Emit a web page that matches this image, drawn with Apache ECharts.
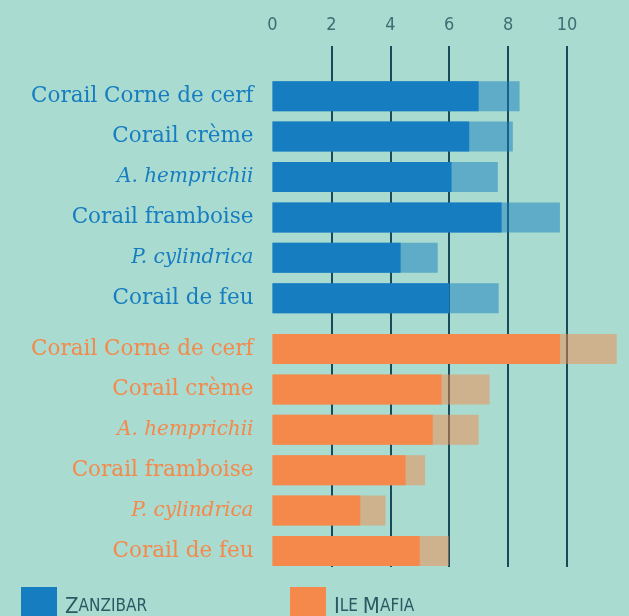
<!DOCTYPE html>
<html lang="fr">
    <head>
        <meta charset="UTF-8" />
        <title>Coraux Zanzibar / Ile Mafia</title>
        <script src="https://cdn.jsdelivr.net/npm/echarts@6/dist/echarts.min.js"></script>
        <style>
            body,
            html {
                margin: 0;
                padding: 0;
                width: 100%;
                height: 100%;
                overflow: hidden;
                background-color: #a9dbd0;
            }
            #main {
                width: 629px;
                height: 616px;
            }
        </style>
    </head>
    <body>
        <div id="main"></div>
        <script>
            const categories = ["Corail Corne de cerf", "Corail crème", "A. hemprichii", "Corail framboise", "P. cylindrica", "Corail de feu"]
            const italicNames = ["A. hemprichii", "P. cylindrica"]
            const tickValues = [0, 2, 4, 6, 8, 10]

            // solid part and full length (light part) for each coral
            const zanzibarSolid = [7.0, 6.68, 6.08, 7.78, 4.35, 6.0]
            const zanzibarTotal = [8.39, 8.16, 7.65, 9.76, 5.61, 7.68]
            const mafiaSolid = [9.76, 5.74, 5.44, 4.52, 2.98, 5.0]
            const mafiaTotal = [11.69, 7.37, 7.0, 5.18, 3.84, 5.99]

            const blue = "#167dc0"
            const orange = "#f4894b"
            const gridColor = "#174b5b"
            const serif = "'DejaVu Serif', serif"
            const narrow = "'DejaVu Sans Condensed', 'DejaVu Sans', sans-serif"

            const chart = echarts.init(document.getElementById("main"), null, { renderer: "canvas" })

            const left = 272.5
            const width = 12 * 29.45

            function catAxis(gridIndex, color) {
                const st = { fontFamily: serif, fontSize: 21.5, color: color }
                return {
                    type: "category",
                    gridIndex: gridIndex,
                    data: categories,
                    inverse: true,
                    axisLine: { show: false },
                    axisTick: { show: false },
                    axisLabel: {
                        margin: 19,
                        formatter: (v) => (italicNames.includes(v) ? "{i|" + v + "}" : "{n|" + v + "}"),
                        rich: { n: st, i: Object.assign({}, st, { fontStyle: "italic", fontSize: 20 }) },
                    },
                }
            }

            function valAxis(gridIndex) {
                return { type: "value", gridIndex: gridIndex, min: 0, max: 12, show: false }
            }

            function barPair(name, idx, solid, total, color) {
                return [
                    {
                        name: name + " (max)",
                        type: "bar",
                        xAxisIndex: idx,
                        yAxisIndex: idx,
                        data: total,
                        barWidth: 30,
                        barGap: "-100%",
                        itemStyle: { color: color, opacity: 0.5 },
                        silent: true,
                    },
                    {
                        name: name,
                        type: "bar",
                        xAxisIndex: idx,
                        yAxisIndex: idx,
                        data: solid,
                        barWidth: 30,
                        barGap: "-100%",
                        itemStyle: { color: color },
                        silent: true,
                    },
                ]
            }

            function smallCaps(name) {
                return name
                    .split(" ")
                    .map((w) => "{a|" + w[0].toUpperCase() + "}{b|" + w.slice(1).toUpperCase() + "}")
                    .join("{b| }")
            }

            const legendText = {
                color: "#2b5a63",
                padding: [4, 0, 0, 3],
                rich: {
                    a: { fontFamily: narrow, fontSize: 22, color: "#2b5a63" },
                    b: { fontFamily: narrow, fontSize: 17, color: "#2b5a63" },
                },
            }

            function legendAt(name, x) {
                return {
                    data: [name],
                    left: x,
                    top: 587,
                    padding: 0,
                    itemWidth: 36,
                    itemHeight: 36,
                    icon: "rect",
                    selectedMode: false,
                    formatter: smallCaps,
                    textStyle: legendText,
                }
            }

            const option = {
                backgroundColor: "#a9dbd0",
                animation: false,
                grid: [
                    { left: left, width: width, top: 46, height: 521 },
                    { left: left, width: width, top: 76, height: 242.4 },
                    { left: left, width: width, top: 328.8, height: 242.4 },
                ],
                xAxis: [
                    {
                        type: "value",
                        gridIndex: 0,
                        position: "top",
                        min: 0,
                        max: 12,
                        interval: 2,
                        axisLine: { show: false },
                        axisTick: { show: false },
                        axisLabel: {
                            margin: 12,
                            fontFamily: narrow,
                            fontSize: 18,
                            color: "#3e6d74",
                            showMaxLabel: false,
                            formatter: (v) => (tickValues.includes(v) ? String(v) : ""),
                        },
                        splitLine: {
                            show: true,
                            showMinLine: false,
                            showMaxLine: false,
                            lineStyle: { color: gridColor, width: 2 },
                        },
                    },
                    valAxis(1),
                    valAxis(2),
                ],
                yAxis: [{ type: "category", gridIndex: 0, data: [], show: false }, catAxis(1, blue), catAxis(2, orange)],
                legend: [legendAt("Zanzibar", 21), legendAt("Ile Mafia", 290)],
                series: [
                    ...barPair("Zanzibar", 1, zanzibarSolid, zanzibarTotal, blue),
                    ...barPair("Ile Mafia", 2, mafiaSolid, mafiaTotal, orange),
                ],
            }

            chart.setOption(option)
        </script>
    </body>
</html>
